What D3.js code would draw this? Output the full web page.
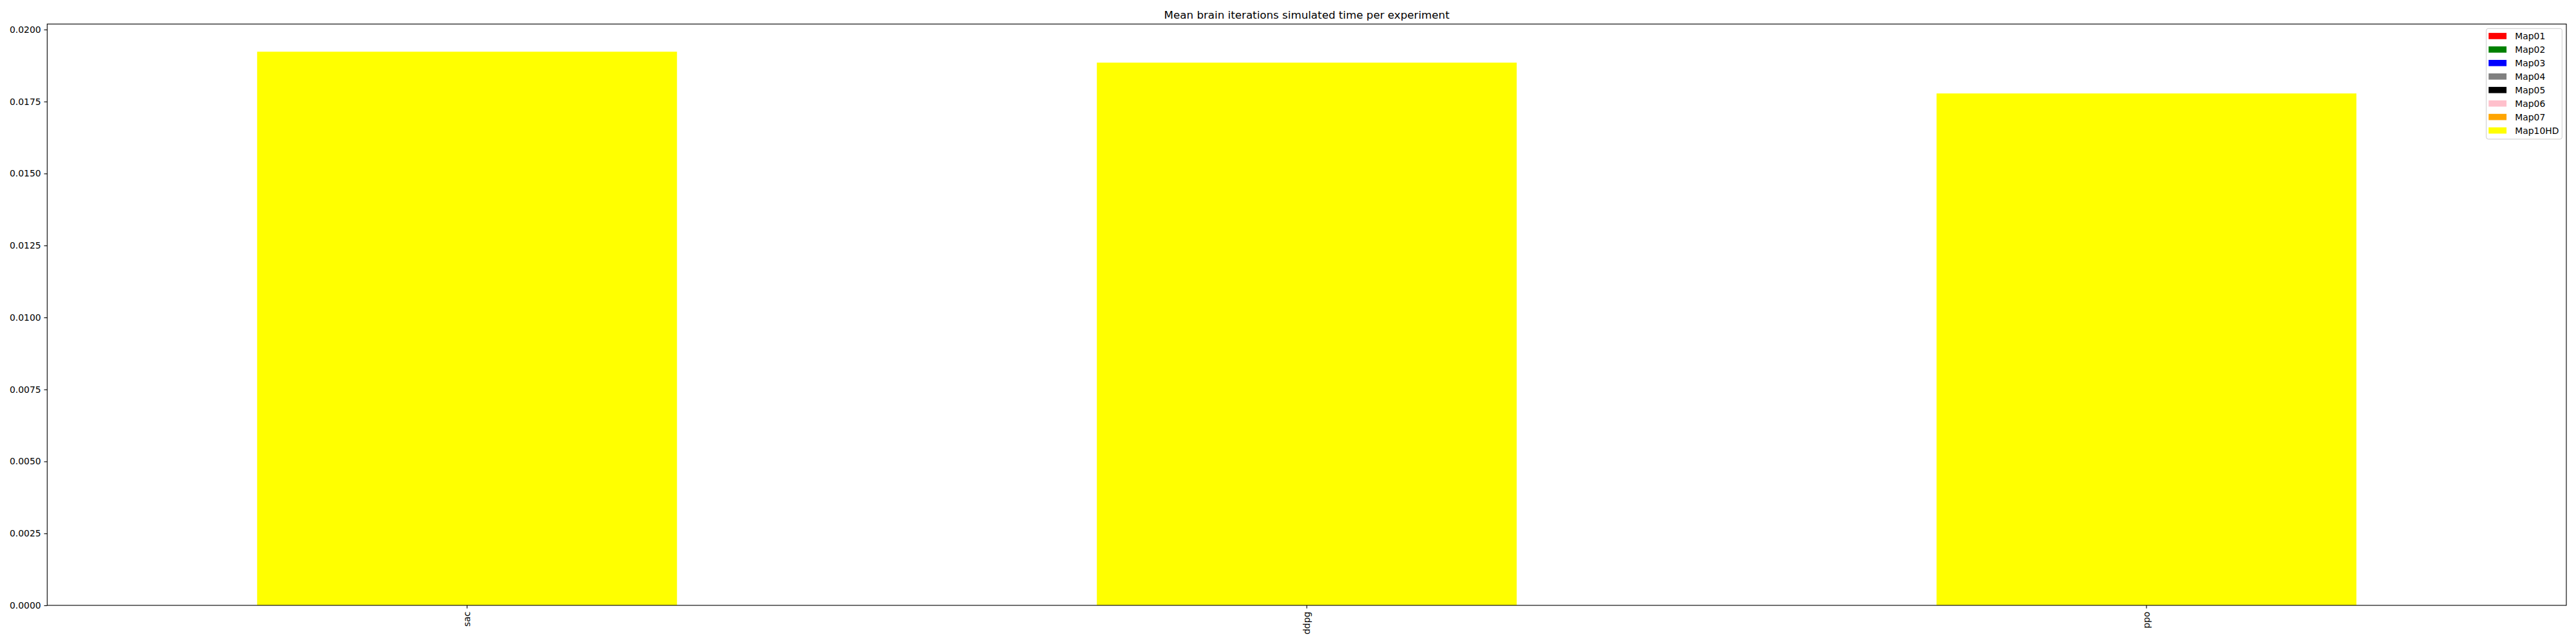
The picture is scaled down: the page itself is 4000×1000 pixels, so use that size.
<!DOCTYPE html>
<html>
<head>
<meta charset="utf-8">
<script src="https://cdn.jsdelivr.net/npm/d3@7"></script>
<style>
  body { margin: 0; background: #fff; }
  svg { display: block; font-family: "DejaVu Sans", sans-serif; }
</style>
</head>
<body>
<svg id="chart" width="4000" height="1000"></svg>
<script>
// ---- data ----
const categories = ["sac", "ddpg", "ppo"];
const seriesNames = ["Map01", "Map02", "Map03", "Map04", "Map05", "Map06", "Map07", "Map10HD"];
const seriesColors = ["red", "green", "blue", "gray", "black", "pink", "orange", "yellow"];
const Map01 = [0, 0, 0];
const Map02 = [0, 0, 0];
const Map03 = [0, 0, 0];
const Map04 = [0, 0, 0];
const Map05 = [0, 0, 0];
const Map06 = [0, 0, 0];
const Map07 = [0, 0, 0];
const Map10HD = [0.01923, 0.01885, 0.01778];
const yTicks = [0, 0.0025, 0.005, 0.0075, 0.01, 0.0125, 0.015, 0.0175, 0.02];
const titleText = "Mean brain iterations simulated time per experiment";

const seriesValues = [Map01, Map02, Map03, Map04, Map05, Map06, Map07, Map10HD];
const rows = categories.map((c, i) => {
  const r = { category: c };
  seriesNames.forEach((s, j) => { r[s] = seriesValues[j][i]; });
  return r;
});

// ---- layout ----
const svg = d3.select("#chart");
const margin = { left: 73.3, right: 4000 - 3985, top: 37.3, bottom: 1000 - 940 };
const W = 4000, H = 1000;
const x0 = margin.left, x1 = W - margin.right, y0 = H - margin.bottom, y1 = margin.top;

const stack = d3.stack().keys(seriesNames);
const stacked = stack(rows);
const maxTotal = d3.max(stacked[stacked.length - 1], d => d[1]);

const x = d3.scaleBand().domain(categories).range([x0, x1]).paddingInner(0.5).paddingOuter(0.25);
const y = d3.scaleLinear().domain([0, maxTotal * 1.05]).range([y0, y1]);
const color = d3.scaleOrdinal().domain(seriesNames).range(seriesColors);

// bars
const g = svg.append("g");
g.selectAll("g.series").data(stacked).join("g")
  .attr("class", "series")
  .attr("fill", d => color(d.key))
  .selectAll("rect").data(d => d).join("rect")
  .attr("x", d => x(d.data.category))
  .attr("width", x.bandwidth())
  .attr("y", d => y(d[1]))
  .attr("height", d => Math.max(0, y(d[0]) - y(d[1])));

// axes
const fs = 13.9;
const yAxis = d3.axisLeft(y).tickValues(yTicks).tickFormat(d3.format(".4f")).tickSize(4.86).tickPadding(4.86);
const yG = svg.append("g").attr("transform", `translate(${x0},0)`).call(yAxis);
yG.select(".domain").remove();
yG.selectAll("line").attr("stroke", "#000").attr("stroke-width", 1.11);
yG.selectAll("text").attr("font-size", fs).attr("font-family", "DejaVu Sans").attr("fill", "#000");

const xAxis = d3.axisBottom(x).tickSize(4.86).tickPadding(4.86);
const xG = svg.append("g").attr("transform", `translate(0,${y0})`).call(xAxis);
xG.select(".domain").remove();
xG.selectAll("line").attr("stroke", "#000").attr("stroke-width", 1.11);
xG.selectAll("text")
  .attr("font-size", fs).attr("font-family", "DejaVu Sans").attr("fill", "#000")
  .attr("transform", "rotate(-90)")
  .attr("text-anchor", "end")
  .attr("x", -9.7)
  .attr("y", 0)
  .attr("dy", "0.32em");

// frame
svg.append("rect")
  .attr("x", x0).attr("y", y1).attr("width", x1 - x0).attr("height", y0 - y1)
  .attr("fill", "none").attr("stroke", "#000").attr("stroke-width", 1.11);

// title
svg.append("text")
  .attr("x", (x0 + x1) / 2).attr("y", y1 - 8.3)
  .attr("text-anchor", "middle")
  .attr("font-size", 16.7).attr("fill", "#000")
  .text(titleText);

// legend
const legX = 3860.7, legY = 44.3, legW = 117.6, rowH = 20.95;
const legH = 171.7;
svg.append("rect")
  .attr("x", legX).attr("y", legY).attr("width", legW).attr("height", legH)
  .attr("rx", 3).attr("ry", 3)
  .attr("fill", "#fff").attr("fill-opacity", 0.8)
  .attr("stroke", "#cccccc").attr("stroke-width", 1);
const leg = svg.append("g");
const items = leg.selectAll("g").data(seriesNames).join("g")
  .attr("transform", (d, i) => `translate(${legX + 3.6},${legY + 11.7 + i * rowH})`);
items.append("rect")
  .attr("x", 0).attr("y", -4.9).attr("width", 27.8).attr("height", 9.7)
  .attr("fill", d => color(d));
items.append("text")
  .attr("x", 41).attr("y", 0).attr("dy", "0.36em")
  .attr("font-size", fs).attr("fill", "#000")
  .text(d => d);
</script>
</body>
</html>
